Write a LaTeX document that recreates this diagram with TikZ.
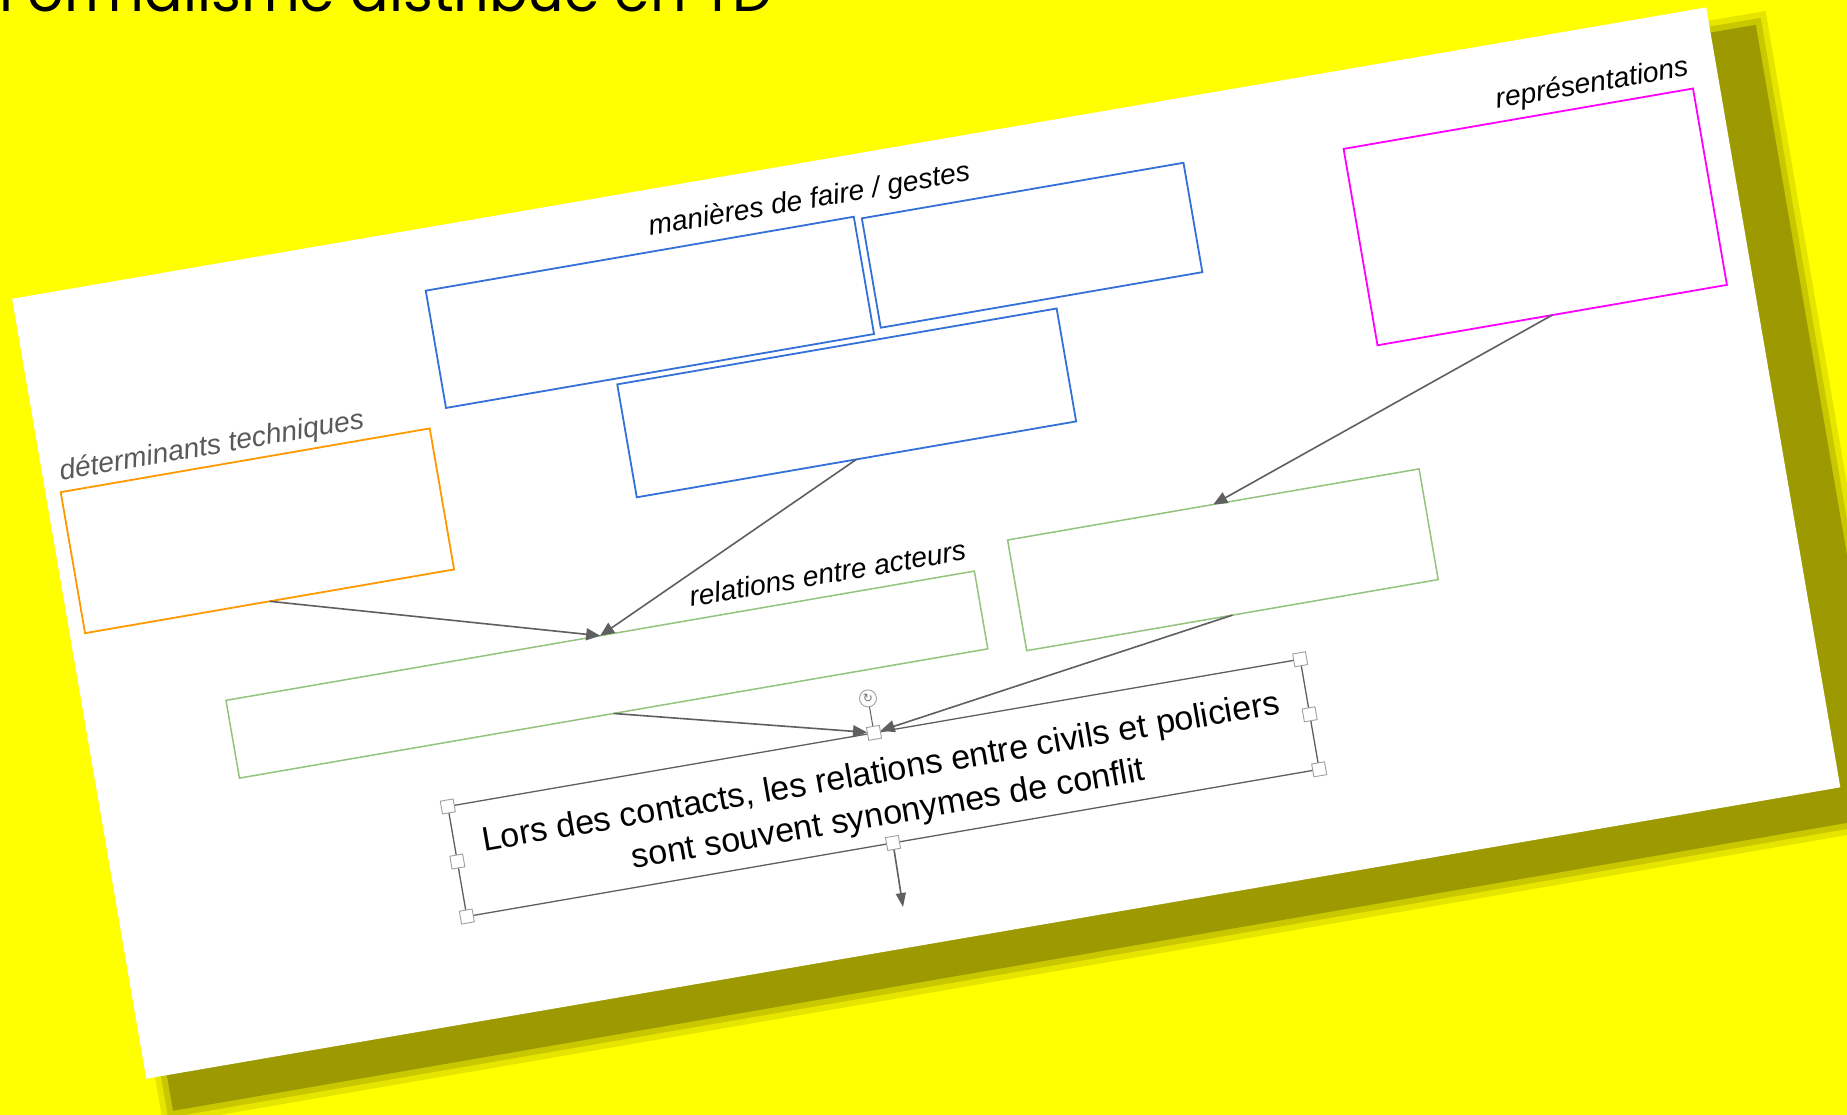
\documentclass[tikz,border=0pt]{standalone}
\usepackage{graphicx}
\usepackage{fontspec}
\setmainfont{Liberation Sans}
\newfontfamily\titlefont{Poppins}
\newfontfamily\symfont{DejaVu Sans}
\usetikzlibrary{arrows.meta}
\definecolor{bgyellow}{HTML}{FFFF00}
\definecolor{shadowcol}{HTML}{9C9A00}
\definecolor{cblue}{HTML}{3370D8}
\definecolor{corange}{HTML}{FF9900}
\definecolor{cmag}{HTML}{FF00FF}
\definecolor{cgreen}{HTML}{93C47D}
\definecolor{cline}{HTML}{5F5F5F}
\definecolor{clabelgray}{HTML}{595959}
\begin{document}
\begin{tikzpicture}[x=1pt,y=-1pt,
  box/.style={draw, rotate=9.8, inner sep=0pt, outer sep=0pt, line width=1.8pt},
  lbl/.style={rotate=9.8, anchor=base west, inner sep=0pt, font=\fontsize{28.3}{34}\selectfont\itshape},
  conn/.style={draw=cline, line width=1.6pt, -{Triangle[length=14pt,width=12pt]}},
  handle/.style={draw=gray!75, fill=white, line width=0.9pt, rotate=9.8, minimum size=13pt, inner sep=0pt},
  shadowbox/.style={fill=shadowcol, rotate=9.76, inner sep=0pt, outer sep=0pt}
]
\useasboundingbox (0,0) rectangle (1847,1115);
\clip (0,0) rectangle (1847,1115);
\fill[bgyellow] (0,0) rectangle (1847,1115);
% shadow of the slide
\node[shadowbox, opacity=0.25, minimum width=1768pt, minimum height=826pt] (sh1) at (964.4,567.8) {};
\node[shadowbox, opacity=0.4, minimum width=1756pt, minimum height=814pt] (sh2) at (964.4,567.8) {};
\node[shadowbox, minimum width=1744pt, minimum height=802pt] (sh3) at (964.4,567.8) {};
% slide
\node[fill=white, rotate=9.76, inner sep=0pt, minimum width=1719pt, minimum height=791.4pt] (page) at (926.2,543.05) {};
% title
\node[anchor=base west, inner sep=0pt] (title) at (-1,12) {\resizebox{774pt}{!}{\titlefont Formalisme distribué en TD}};
% boxes
\node[box, draw=cblue, minimum width=434.4pt, minimum height=119pt] (blue1) at (649.9,312.35) {};
\node[box, draw=cblue, minimum width=326.4pt, minimum height=111pt] (blue2) at (1032.1,245.25) {};
\node[box, draw=cblue, minimum width=445.9pt, minimum height=114.6pt] (blue3) at (846.7,402.9) {};
\node[box, draw=cmag, minimum width=354.6pt, minimum height=199.3pt] (rep) at (1535.25,216.9) {};
\node[box, draw=corange, minimum width=374.5pt, minimum height=143.1pt] (det) at (257.4,530.8) {};
\node[box, draw=cgreen, line width=1.5pt, minimum width=759.5pt, minimum height=78.9pt] (rel) at (606.9,674.6) {};
\node[box, draw=cgreen, line width=1.5pt, minimum width=417.6pt, minimum height=112.3pt] (green2) at (1222.9,559.8) {};
% labels
\node[lbl] (lgestes) at (650,236) {manières de faire / gestes};
\node[lbl, text=clabelgray] (ldet) at (61,480.5) {déterminants techniques};
\node[lbl] (lrep) at (1497,108.5) {représentations};
\node[lbl] (lrel) at (691,607) {relations entre acteurs};
% text box (selected)
\node[box, draw=cline, line width=1.3pt, minimum width=865pt, minimum height=111.7pt] (tb) at (883.5,787.9) {};
\node[rotate=9.8, inner sep=0pt, align=center, font=\fontsize{34}{42.6}\selectfont] (tbtext) at ([shift={(1.2,6.9)}]tb.center) {Lors des contacts, les relations entre civils et policiers\\sont souvent synonymes de conflit};
\coordinate (out) at (903,907);
% connectors
\draw[conn] (det.south) -- (rel.north);
\draw[conn] (blue3.south) -- (rel.north);
\draw[conn] (rep.south) -- (green2.north);
\draw[conn, shorten >=7pt] (rel.south) -- (tb.north);
\draw[conn, shorten >=7pt] (green2.south) -- (tb.north);
\draw[conn, -{Triangle[length=14pt,width=10pt]}] (tb.south) -- (out);
% rotation handle
\node[circle, draw=gray!75, fill=white, line width=0.9pt, minimum size=17pt, inner sep=0pt, font=\symfont\fontsize{12}{12}\selectfont, text=gray!90!black] (roth) at ([shift={(-6,-34.5)}]tb.north) {↻};
\draw[cline, line width=1pt] (roth) -- (tb.north);
% selection handles
\foreach \a/\n in {north west/h1, north/h2, north east/h3, east/h4, south east/h5, south/h6, south west/h7, west/h8}
  \node[handle] (\n) at (tb.\a) {};
\end{tikzpicture}
\end{document}
